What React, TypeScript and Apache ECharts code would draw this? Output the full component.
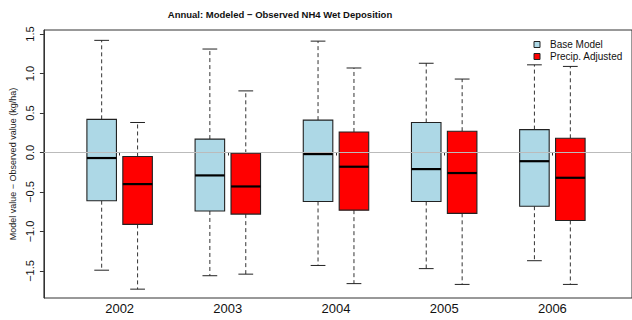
import React, { useEffect, useRef } from "react";
import * as echarts from "echarts";

const years = [2002, 2003, 2004, 2005, 2006];
const yTicks = [-1.5, -1.0, -0.5, 0.0, 0.5, 1.0, 1.5];

const baseLow = [-1.49, -1.56, -1.43, -1.47, -1.37];
const baseQ1 = [-0.61, -0.74, -0.62, -0.62, -0.68];
const baseMedian = [-0.07, -0.29, -0.02, -0.21, -0.11];
const baseQ3 = [0.42, 0.17, 0.41, 0.38, 0.29];
const baseHigh = [1.42, 1.31, 1.41, 1.13, 1.11];

const precipLow = [-1.73, -1.54, -1.66, -1.67, -1.67];
const precipQ1 = [-0.91, -0.78, -0.73, -0.77, -0.86];
const precipMedian = [-0.4, -0.43, -0.18, -0.26, -0.32];
const precipQ3 = [-0.05, -0.01, 0.26, 0.27, 0.18];
const precipHigh = [0.38, 0.78, 1.07, 0.93, 1.09];

const FONT = "Liberation Sans, Arial, Helvetica, sans-serif";
const BOX_WIDTH = 0.273;
const OFFSET = 0.166;

function makeRender(offset: number, fill: string) {
  return (params: any, api: any) => {
    const x = api.value(0) + offset;
    const low = api.coord([x, api.value(1)]);
    const q1 = api.coord([x, api.value(2)]);
    const med = api.coord([x, api.value(3)]);
    const q3 = api.coord([x, api.value(4)]);
    const high = api.coord([x, api.value(5)]);
    const halfBox = api.size([BOX_WIDTH, 0])[0] / 2;
    const halfCap = halfBox / 2;
    const cx = low[0];
    const dash = { stroke: "#333", lineWidth: 1, lineDash: [4, 3] };
    const solid = { stroke: "#222", lineWidth: 1 };
    return {
      type: "group",
      children: [
        { type: "line", shape: { x1: cx, y1: q3[1], x2: cx, y2: high[1] }, style: dash },
        { type: "line", shape: { x1: cx, y1: q1[1], x2: cx, y2: low[1] }, style: dash },
        { type: "line", shape: { x1: cx - halfCap, y1: high[1], x2: cx + halfCap, y2: high[1] }, style: solid },
        { type: "line", shape: { x1: cx - halfCap, y1: low[1], x2: cx + halfCap, y2: low[1] }, style: solid },
        {
          type: "rect",
          shape: { x: cx - halfBox, y: q3[1], width: halfBox * 2, height: q1[1] - q3[1] },
          style: { fill, stroke: "#222", lineWidth: 1.1 },
        },
        { type: "line", shape: { x1: cx - halfBox, y1: med[1], x2: cx + halfBox, y2: med[1] }, style: { stroke: "#000", lineWidth: 2.2 } },
      ],
    };
  };
}

export default function App() {
  const ref = useRef<HTMLDivElement>(null);
  useEffect(() => {
    if (!ref.current) return;
    const chart = echarts.init(ref.current, undefined, { renderer: "svg" });
    const baseData = years.map((y, i) => [y, baseLow[i], baseQ1[i], baseMedian[i], baseQ3[i], baseHigh[i]]);
    const precipData = years.map((y, i) => [y, precipLow[i], precipQ1[i], precipMedian[i], precipQ3[i], precipHigh[i]]);
    chart.setOption({
      animation: false,
      backgroundColor: "#fff",
      textStyle: { fontFamily: FONT },
      title: {
        text: "Annual: Modeled \u2212 Observed NH4 Wet Deposition",
        left: 280,
        top: 9,
        textAlign: "center",
        padding: 0,
        textStyle: { fontSize: 9.5, fontWeight: "bold", color: "#111", fontFamily: FONT },
      },
      grid: { left: 42, right: -8, top: 30, bottom: 22, show: true, borderColor: "#333", borderWidth: 1 },
      xAxis: {
        type: "value",
        min: 2001.3,
        max: 2006.736,
        axisLine: { show: true, lineStyle: { color: "#333" } },
        axisTick: { show: true, customValues: years, length: 3, inside: false, lineStyle: { color: "#333" } },
        axisLabel: { customValues: years, fontSize: 13, color: "#111", margin: 4, fontFamily: FONT, formatter: (v: number) => String(v) },
        splitLine: { show: false },
      },
      yAxis: {
        type: "value",
        min: -1.842,
        max: 1.551,
        name: "Model value \u2212 Observed value (kg/ha)",
        nameLocation: "middle",
        nameGap: 25,
        nameTextStyle: { fontSize: 9, color: "#222", fontFamily: FONT },
        axisLine: { show: true, lineStyle: { color: "#333" } },
        axisTick: { show: true, customValues: yTicks, length: 4, lineStyle: { color: "#333" } },
        axisLabel: {
          customValues: yTicks,
          rotate: 90,
          fontSize: 11,
          color: "#111",
          margin: 8,
          fontFamily: FONT,
          formatter: (v: number) => v.toFixed(1).replace("-", "\u2212"),
        },
        splitLine: { show: false },
      },
      graphic: [
        { type: "rect", shape: { x: 534, y: 41.5, width: 6, height: 6 }, style: { fill: "#ADD8E6", stroke: "#222", lineWidth: 1 } },
        { type: "rect", shape: { x: 534, y: 53.5, width: 6, height: 6 }, style: { fill: "#FF0000", stroke: "#222", lineWidth: 1 } },
        { type: "text", x: 550, y: 44.5, style: { text: "Base Model", fontSize: 10, fill: "#111", font: "10px " + FONT, textVerticalAlign: "middle" } },
        { type: "text", x: 550, y: 56.5, style: { text: "Precip. Adjusted", fontSize: 10, fill: "#111", font: "10px " + FONT, textVerticalAlign: "middle" } },
      ],
      series: [
        {
          type: "line",
          data: [],
          z: 1,
          markLine: {
            silent: true,
            symbol: "none",
            label: { show: false },
            lineStyle: { color: "#bbb", type: "solid", width: 1 },
            data: [{ yAxis: 0 }],
          },
        },
        {
          name: "Base Model",
          type: "custom",
          z: 3,
          renderItem: makeRender(-OFFSET, "#ADD8E6"),
          encode: { x: 0, y: [1, 2, 3, 4, 5] },
          data: baseData,
        },
        {
          name: "Precip. Adjusted",
          type: "custom",
          z: 3,
          renderItem: makeRender(OFFSET, "#FF0000"),
          encode: { x: 0, y: [1, 2, 3, 4, 5] },
          data: precipData,
        },
      ],
    });
    return () => chart.dispose();
  }, []);
  return <div ref={ref} style={{ position: "fixed", left: 0, top: 0, width: 632, height: 320 }} />;
}
